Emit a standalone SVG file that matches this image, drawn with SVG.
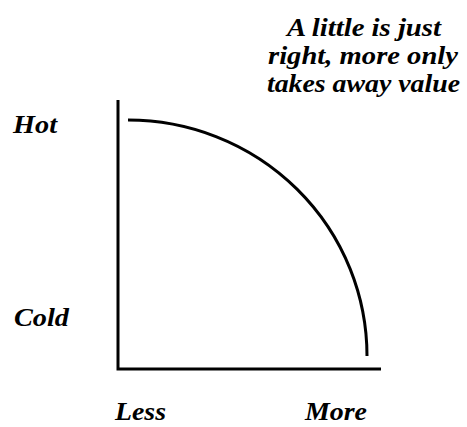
<svg xmlns="http://www.w3.org/2000/svg" width="467" height="427" viewBox="0 0 467 427">
<style>
text{font-family:"Liberation Serif","Times New Roman",serif;font-weight:bold;font-style:italic;font-size:26px;fill:#000}
.ln{stroke:#000;stroke-width:3;fill:none}
</style>
<rect width="467" height="427" fill="#fff"/>
<g id="axes">
<path class="ln" d="M118 100 V369 H381"/>
</g>
<g id="connectors">
<path class="ln" d="M128 120 A239 236 0 0 1 367 356"/>
</g>
<g id="labels">
<text x="13" y="133" textLength="44" lengthAdjust="spacingAndGlyphs">Hot</text>
<text x="14" y="326" textLength="55" lengthAdjust="spacingAndGlyphs">Cold</text>
<text x="115" y="420" textLength="51" lengthAdjust="spacingAndGlyphs">Less</text>
<text x="305" y="420" textLength="62" lengthAdjust="spacingAndGlyphs">More</text>
<text x="287" y="36" textLength="154" lengthAdjust="spacingAndGlyphs">A little is just</text>
<text x="268" y="64" textLength="190" lengthAdjust="spacingAndGlyphs">right, more only</text>
<text x="267" y="92" textLength="193" lengthAdjust="spacingAndGlyphs">takes away value</text>
</g>
</svg>
